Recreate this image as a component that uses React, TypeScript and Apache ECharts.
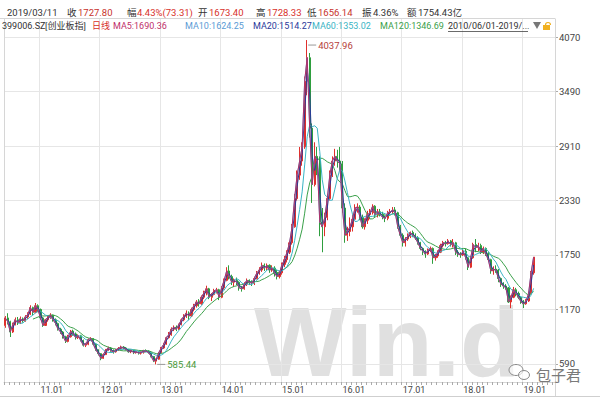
import React, { useEffect, useRef } from 'react';
import * as echarts from 'echarts';

// [open, close, lowest, highest] — half-month candles
const candles2010 = [
  [1000, 1080, 975, 1100], [1080, 1040, 1010, 1130], [1040, 930, 877, 1050], [930, 1010, 920, 1030],
  [1010, 1060, 1000, 1085], [1060, 1030, 1005, 1090], [1030, 1070, 1015, 1095], [1070, 1050, 1030, 1085],
  [1050, 1090, 1040, 1110], [1090, 1120, 1070, 1140], [1120, 1190, 1110, 1215], [1190, 1140, 1110, 1200],
  [1140, 1210, 1130, 1239], [1210, 1170, 1140, 1225],
];
const candles2011 = [
  [1170, 1080, 1060, 1180], [1080, 1000, 985, 1090], [1000, 1060, 995, 1070], [1060, 1090, 1040, 1110],
  [1090, 1110, 1070, 1130], [1110, 1060, 1040, 1115], [1060, 1020, 1000, 1075], [1020, 960, 945, 1030],
  [960, 930, 910, 975], [930, 880, 860, 940], [880, 830, 813, 890], [830, 880, 820, 900],
  [880, 940, 870, 952], [940, 910, 890, 955], [910, 870, 850, 925], [870, 890, 855, 905],
  [890, 840, 830, 900], [840, 790, 775, 850], [790, 800, 770, 815], [800, 850, 790, 862],
  [850, 860, 835, 875], [860, 800, 790, 865], [800, 740, 730, 810], [740, 700, 680, 745],
];
const candles2012 = [
  [700, 650, 630, 705], [650, 690, 645, 700], [690, 740, 685, 750], [740, 760, 730, 775],
  [760, 730, 720, 770], [730, 720, 700, 745], [720, 740, 710, 750], [740, 755, 730, 770],
  [755, 770, 745, 785], [770, 760, 745, 780], [760, 745, 735, 770], [745, 720, 710, 750],
  [720, 735, 705, 745], [735, 710, 695, 740], [710, 720, 700, 735], [720, 705, 690, 725],
  [705, 715, 690, 725], [715, 730, 700, 740], [730, 725, 715, 745], [725, 710, 700, 735],
  [710, 670, 660, 715], [670, 620, 610, 675], [620, 640, 585.44, 648], [640, 710, 635, 715],
];
const candles2013 = [
  [710, 760, 700, 770], [760, 800, 750, 815], [800, 870, 795, 880], [870, 900, 860, 930],
  [900, 960, 890, 980], [960, 980, 940, 1000], [980, 960, 940, 1000], [960, 1010, 950, 1020],
  [1010, 1060, 1000, 1075], [1060, 1100, 1045, 1120], [1100, 1130, 1080, 1160], [1130, 1100, 1060, 1150],
  [1100, 1170, 1090, 1190], [1170, 1210, 1150, 1230], [1210, 1250, 1190, 1270], [1250, 1230, 1200, 1280],
  [1230, 1300, 1220, 1320], [1300, 1350, 1280, 1370], [1350, 1390, 1320, 1423], [1390, 1300, 1280, 1400],
  [1300, 1330, 1260, 1345], [1330, 1370, 1320, 1390], [1370, 1380, 1340, 1400], [1380, 1300, 1270, 1390],
];
const candles2014 = [
  [1300, 1400, 1290, 1420], [1400, 1480, 1380, 1500], [1480, 1580, 1470, 1620], [1580, 1520, 1490, 1640],
  [1520, 1460, 1430, 1540], [1460, 1480, 1410, 1500], [1480, 1460, 1430, 1510], [1460, 1400, 1370, 1470],
  [1400, 1390, 1360, 1420], [1390, 1440, 1380, 1460], [1440, 1480, 1420, 1500], [1480, 1460, 1430, 1490],
  [1460, 1450, 1420, 1480], [1450, 1500, 1430, 1520], [1500, 1560, 1490, 1580], [1560, 1590, 1540, 1620],
  [1590, 1640, 1570, 1670], [1640, 1610, 1580, 1660], [1610, 1640, 1590, 1660], [1640, 1590, 1560, 1650],
  [1590, 1610, 1570, 1640], [1610, 1560, 1520, 1630], [1560, 1520, 1490, 1590], [1520, 1560, 1500, 1580],
];
const candles2015 = [
  [1560, 1650, 1540, 1670], [1650, 1700, 1620, 1740], [1700, 1780, 1670, 1800], [1780, 1880, 1760, 1900],
  [1880, 2050, 1860, 2080], [2050, 2350, 2040, 2400], [2350, 2600, 2330, 2650], [2600, 2750, 2550, 2900],
  [2750, 2900, 2700, 2950], [2900, 3600, 2880, 3650], [3600, 3850, 3450, 4037.96], [3850, 3100, 3000, 3900],
  [3100, 2500, 2304, 3150], [2500, 2800, 2480, 2950], [2800, 2750, 2600, 2900], [2750, 2100, 1950, 2800],
  [2100, 2050, 1779, 2250], [2050, 2150, 1950, 2200], [2150, 2350, 2120, 2400], [2350, 2600, 2330, 2650],
  [2600, 2750, 2580, 2800], [2750, 2800, 2700, 2880], [2800, 2750, 2680, 2870], [2750, 2720, 2650, 2900],
];
const candles2016 = [
  [2720, 2250, 2200, 2750], [2250, 1960, 1880, 2300], [1960, 2000, 1900, 2050], [2000, 2050, 1950, 2150],
  [2050, 2130, 2000, 2180], [2130, 2250, 2120, 2290], [2250, 2260, 2200, 2300], [2260, 2150, 2120, 2280],
  [2150, 2050, 2030, 2180], [2050, 2120, 2020, 2140], [2120, 2180, 2080, 2220], [2180, 2200, 2130, 2240],
  [2200, 2270, 2180, 2290], [2270, 2180, 2150, 2280], [2180, 2210, 2150, 2240], [2210, 2180, 2160, 2240],
  [2180, 2150, 2130, 2210], [2150, 2140, 2100, 2170], [2140, 2200, 2120, 2220], [2200, 2210, 2180, 2240],
  [2210, 2230, 2190, 2260], [2230, 2200, 2170, 2260], [2200, 2050, 2030, 2210], [2050, 1960, 1940, 2070],
];
const candles2017 = [
  [1960, 1880, 1840, 1980], [1880, 1920, 1840, 1940], [1920, 1950, 1900, 1980], [1950, 1990, 1930, 2000],
  [1990, 1960, 1940, 2010], [1960, 1930, 1910, 1980], [1930, 1880, 1860, 1950], [1880, 1820, 1800, 1890],
  [1820, 1790, 1750, 1830], [1790, 1760, 1720, 1800], [1760, 1800, 1750, 1820], [1800, 1820, 1780, 1840],
  [1820, 1720, 1656, 1830], [1720, 1740, 1690, 1760], [1740, 1780, 1720, 1800], [1780, 1850, 1770, 1870],
  [1850, 1880, 1830, 1900], [1880, 1870, 1840, 1900], [1870, 1900, 1860, 1920], [1900, 1860, 1840, 1910],
  [1860, 1880, 1830, 1920], [1880, 1780, 1750, 1890], [1780, 1760, 1730, 1800], [1760, 1750, 1720, 1780],
];
const candles2018 = [
  [1750, 1790, 1740, 1810], [1790, 1720, 1700, 1820], [1720, 1620, 1590, 1730], [1620, 1720, 1610, 1740],
  [1720, 1860, 1710, 1880], [1860, 1830, 1780, 1920], [1830, 1850, 1790, 1880], [1850, 1780, 1760, 1870],
  [1780, 1820, 1760, 1840], [1820, 1760, 1740, 1830], [1760, 1700, 1680, 1780], [1700, 1580, 1550, 1710],
  [1580, 1600, 1540, 1630], [1600, 1590, 1560, 1640], [1590, 1500, 1460, 1600], [1500, 1440, 1410, 1510],
  [1440, 1420, 1390, 1460], [1420, 1400, 1380, 1440], [1400, 1250, 1240, 1410], [1250, 1300, 1184, 1320],
  [1300, 1380, 1290, 1410], [1380, 1340, 1310, 1400], [1340, 1300, 1280, 1360], [1300, 1250, 1230, 1310],
];
const candles2019 = [
  [1250, 1230, 1184.9, 1270], [1230, 1260, 1220, 1280], [1260, 1340, 1250, 1360], [1340, 1560, 1330, 1580],
  [1560, 1727.8, 1540, 1728.33],
];

const yTicks = [590, 1170, 1750, 2330, 2910, 3490, 4070];
const maNames = ['MA5', 'MA10', 'MA20', 'MA60', 'MA120'];
const maWindows = [1, 1, 2, 6, 12]; // in half-month periods
const maColors = ['#b0306a', '#5b9bd5', '#2a3a9a', '#3ab4c4', '#3aa04a'];

const headerRow1 = [
  { t: '2019/03/11', x: 7, c: '#333' },
  { t: '收', x: 67, c: '#333' }, { t: '1727.80', x: 78, c: '#c8322c' },
  { t: '幅', x: 127, c: '#333' }, { t: '4.43%(73.31)', x: 137, c: '#d8302a' },
  { t: '开', x: 198, c: '#333' }, { t: '1673.40', x: 209, c: '#d8302a' },
  { t: '高', x: 256, c: '#333' }, { t: '1728.33', x: 267, c: '#d8302a' },
  { t: '低', x: 307, c: '#333' }, { t: '1656.14', x: 318, c: '#c8322c' },
  { t: '振', x: 362, c: '#333' }, { t: '4.36%', x: 373, c: '#333' },
  { t: '额', x: 407, c: '#333' }, { t: '1754.43亿', x: 418, c: '#333' },
];
const headerRow2 = [
  { t: '399006.SZ', x: 2, c: '#333' },
  { t: '[创业板指]', x: 45, c: '#333' },
  { t: '日线', x: 92, c: '#d8302a' },
  { t: 'MA5:1690.36', x: 113, c: '#c0306a' },
  { t: 'MA10:1624.25', x: 185, c: '#5b9bd5' },
  { t: 'MA20:1514.27', x: 253, c: '#2a3a9a' },
  { t: 'MA60:1353.02', x: 312, c: '#3ab4c4' },
  { t: 'MA120:1346.69', x: 380, c: '#3aa04a' },
  { t: '2010/06/01-2019/...', x: 448, c: '#333' },
];

const allCandles = [
  ...candles2010, ...candles2011, ...candles2012, ...candles2013, ...candles2014,
  ...candles2015, ...candles2016, ...candles2017, ...candles2018, ...candles2019,
];
const EXTRA_PERIODS = 8;

function buildCategories(n: number): string[] {
  const out: string[] = [];
  for (let k = 0; k < n; k++) {
    const m = 5 + Math.floor(k / 2); // 0-based month from Jan 2010
    const y = 2010 + Math.floor(m / 12);
    const mm = (m % 12) + 1;
    out.push(`${y}-${mm < 10 ? '0' + mm : mm}-${k % 2 === 0 ? '01' : '16'}`);
  }
  return out;
}
const categories = buildCategories(allCandles.length + EXTRA_PERIODS);
const closes = allCandles.map((d) => d[1]);

function movingAverage(win: number) {
  return closes.map((_, i) => {
    if (i < win - 1) return '-';
    let s = 0;
    for (let j = i - win + 1; j <= i; j++) s += closes[j];
    return +(s / win).toFixed(2);
  });
}

const FONT = 'Roboto, "Noto Sans CJK SC", sans-serif';

export default function App() {
  const ref = useRef<HTMLDivElement>(null);
  useEffect(() => {
    if (!ref.current) return;
    const chart = echarts.init(ref.current, undefined, { renderer: 'svg' });
    const isYearStart = (_i: number, v: string) => typeof v === 'string' && v.endsWith('-01-01');
    const isMonthStart = (_i: number, v: string) => typeof v === 'string' && v.endsWith('-01');

    const graphics: any[] = [];
    const frame = '#d6d6d6';
    graphics.push({ type: 'line', shape: { x1: 0, y1: 18.5, x2: 555, y2: 18.5 }, style: { stroke: frame, lineWidth: 1 }, z: 1 });
    graphics.push({ type: 'line', shape: { x1: 4.5, y1: 18.5, x2: 4.5, y2: 382 }, style: { stroke: frame, lineWidth: 1 }, z: 1 });
    graphics.push({ type: 'line', shape: { x1: 555.5, y1: 18.5, x2: 555.5, y2: 396 }, style: { stroke: frame, lineWidth: 1 }, z: 1 });
    graphics.push({ type: 'line', shape: { x1: 0, y1: 396.5, x2: 600, y2: 396.5 }, style: { stroke: '#cfcfcf', lineWidth: 1 }, z: 1 });
    // watermark
    graphics.push({
      type: 'text', z: 0, x: 254, y: 342,
      style: { text: 'Win.d', font: 'bold 98px "Liberation Sans", Arial, sans-serif', fill: '#e0e0e0', textVerticalAlign: 'middle', verticalAlign: 'middle' },
    });
    headerRow1.forEach((s) => graphics.push({
      type: 'text', z: 10, x: s.x, y: 12,
      style: { text: s.t, font: `9.5px ${FONT}`, fill: s.c, textVerticalAlign: 'middle', verticalAlign: 'middle' },
    }));
    headerRow2.forEach((s) => graphics.push({
      type: 'text', z: 10, x: s.x, y: 26,
      style: { text: s.t, font: `9px ${FONT}`, fill: s.c, textVerticalAlign: 'middle', verticalAlign: 'middle' },
    }));
    graphics.push({ type: 'line', z: 10, shape: { x1: 448, y1: 31.5, x2: 528, y2: 31.5 }, style: { stroke: '#444', lineWidth: 0.8 } });
    graphics.push({ type: 'polygon', z: 10, shape: { points: [[533, 22], [541, 22], [537, 29]] }, style: { fill: '#777' } });
    graphics.push({ type: 'rect', z: 10, shape: { x: 543, y: 25, width: 7, height: 5 }, style: { fill: '#f0b020' } });
    graphics.push({ type: 'arc', z: 10, shape: { cx: 548, cy: 25, r: 2.5, startAngle: Math.PI, endAngle: 2 * Math.PI }, style: { stroke: '#f0b020', lineWidth: 1.2, fill: 'none' } });
    graphics.push({ type: 'ellipse', z: 5, shape: { cx: 516, cy: 370, rx: 7, ry: 5.5 }, style: { stroke: '#8a8a8a', lineWidth: 1, fill: 'rgba(255,255,255,0.6)' } });
    graphics.push({ type: 'ellipse', z: 5, shape: { cx: 524, cy: 375, rx: 5.5, ry: 4.5 }, style: { stroke: '#8a8a8a', lineWidth: 1, fill: 'rgba(255,255,255,0.6)' } });
    graphics.push({
      type: 'text', z: 5, x: 536, y: 374,
      style: { text: '包子君', font: '15px "Noto Sans CJK SC", sans-serif', fill: '#7a7a7a', textVerticalAlign: 'middle', verticalAlign: 'middle' },
    });

    const maSeries = maNames.map((name, k) => ({
      name, type: 'line', data: movingAverage(maWindows[k]), symbol: 'none', z: 3 + (4 - k) * 0.1,
      lineStyle: { color: maColors[k], width: 1 }, itemStyle: { color: maColors[k] }, smooth: false,
    })).reverse();

    chart.setOption({
      animation: false,
      backgroundColor: '#ffffff',
      grid: { left: 4, right: 45, top: 19, bottom: 18 },
      xAxis: {
        type: 'category', data: categories, boundaryGap: true,
        axisLine: { show: true, lineStyle: { color: '#d6d6d6' } },
        axisTick: { show: true, interval: isMonthStart, length: 3, lineStyle: { color: '#aaa' } },
        axisLabel: {
          interval: isYearStart, align: 'left', color: '#444', fontSize: 9, margin: 3, fontFamily: FONT,
          formatter: (v: string) => `${v.slice(2, 4)}.${v.slice(5, 7)}`,
        },
        splitLine: { show: true, interval: isYearStart, lineStyle: { color: '#e6e6e6' } },
      },
      yAxis: {
        type: 'value', position: 'right', min: 398, max: 4262, scale: true,
        axisLine: { show: false },
        axisTick: { show: true, customValues: yTicks, length: 3, lineStyle: { color: '#aaa' } },
        axisLabel: { customValues: yTicks, color: '#444', fontSize: 9.5, margin: 4, fontFamily: FONT, formatter: (v: number) => String(v) },
        splitLine: { show: true, lineStyle: { color: '#e6e6e6' } },
      },
      graphic: graphics,
      series: [
        {
          type: 'candlestick', name: '日线', data: allCandles, z: 2, barWidth: '65%',
          itemStyle: { color: '#e0302c', color0: '#2e9e3e', borderColor: '#e0302c', borderColor0: '#2e9e3e', borderWidth: 1 },
          markPoint: {
            symbol: 'circle', symbolSize: 0,
            data: [
              {
                type: 'max', valueDim: 'highest',
                label: {
                  show: true, position: 'right', distance: 1, offset: [0, 5],
                  formatter: (p: any) => `{l|}{v|${Number(p.value).toFixed(2)}}`,
                  rich: { l: { width: 8, height: 1, backgroundColor: '#999' }, v: { color: '#b5413a', fontSize: 9.5, fontFamily: FONT, padding: [0, 0, 0, 2] } },
                },
              },
              {
                type: 'min', valueDim: 'lowest',
                label: {
                  show: true, position: 'right', distance: 1, offset: [0, 0],
                  formatter: (p: any) => `{l|}{v|${Number(p.value).toFixed(2)}}`,
                  rich: { l: { width: 8, height: 1, backgroundColor: '#999' }, v: { color: '#4a9a3a', fontSize: 9.5, fontFamily: FONT, padding: [0, 0, 0, 2] } },
                },
              },
            ],
          },
        },
        ...maSeries,
      ],
    });
    return () => chart.dispose();
  }, []);
  return <div ref={ref} style={{ width: 600, height: 400, position: 'fixed', left: 0, top: 0 }} />;
}
